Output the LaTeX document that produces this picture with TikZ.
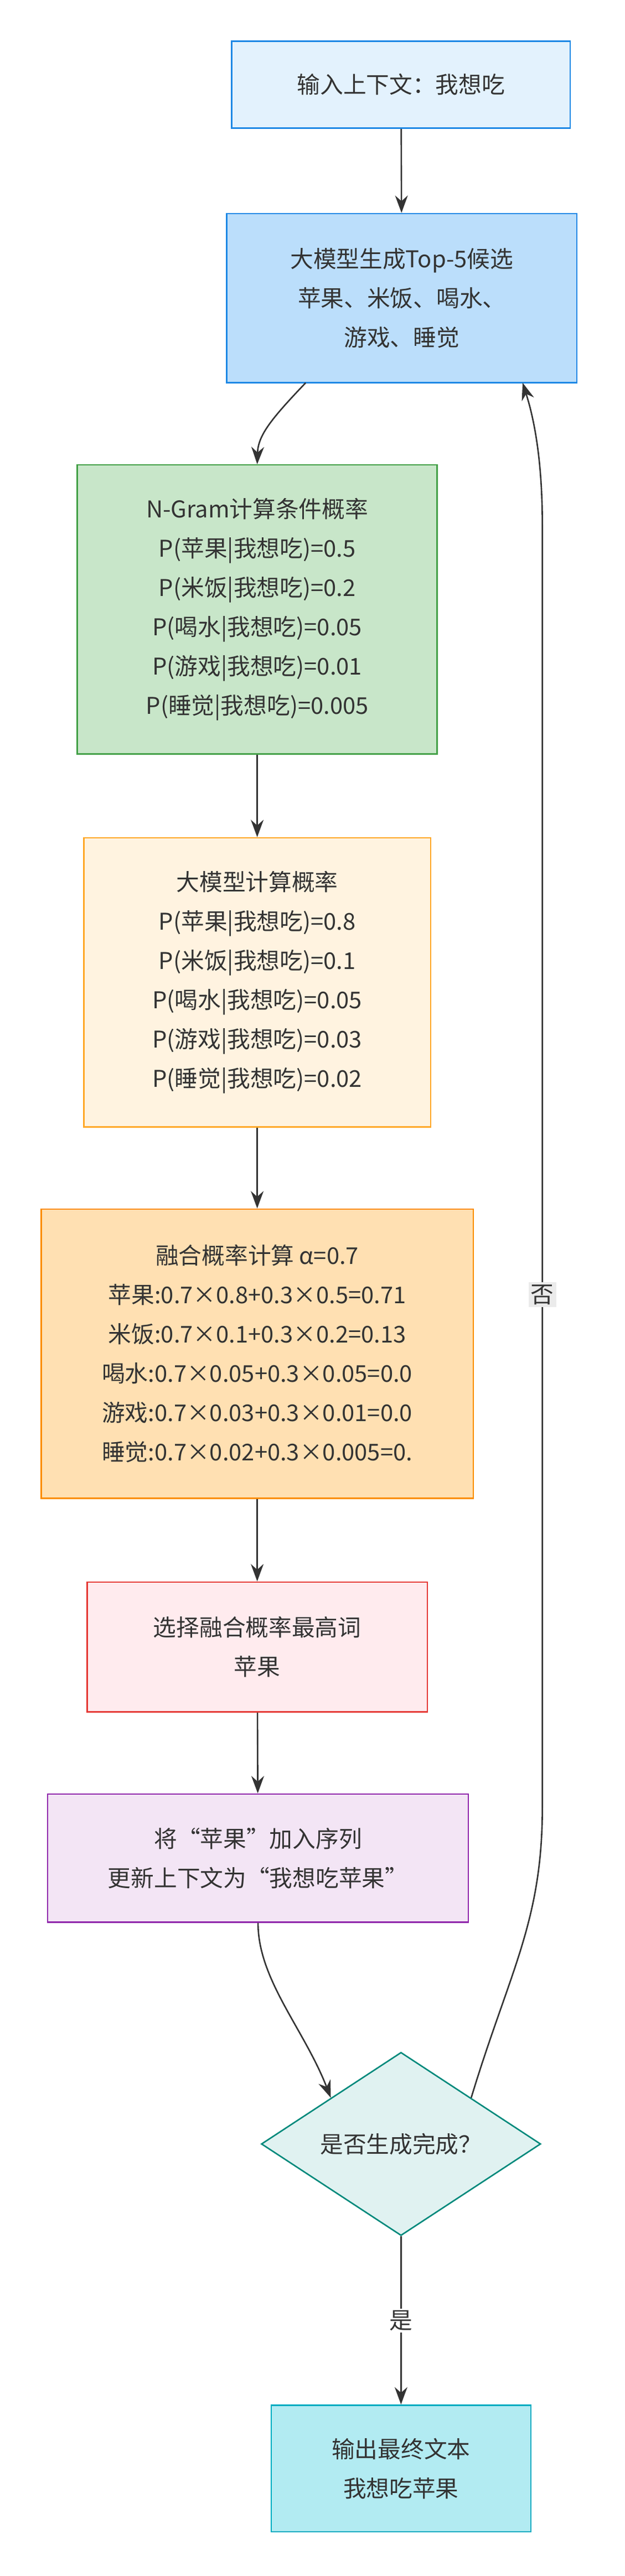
\documentclass[tikz,border=0pt]{standalone}
\usepackage{fontspec}
\setmainfont{Noto Sans CJK SC}
\usetikzlibrary{shapes.geometric,arrows.meta}
\definecolor{inFill}{HTML}{E3F2FD}
\definecolor{genFill}{HTML}{BBDEFB}
\definecolor{blueLine}{HTML}{1E88E5}
\definecolor{ngFill}{HTML}{C8E6C9}
\definecolor{ngLine}{HTML}{43A047}
\definecolor{llmFill}{HTML}{FFF3E0}
\definecolor{llmLine}{HTML}{FFA726}
\definecolor{mixFill}{HTML}{FFE0B2}
\definecolor{mixLine}{HTML}{FB8C00}
\definecolor{selFill}{HTML}{FFEBEE}
\definecolor{selLine}{HTML}{E53935}
\definecolor{addFill}{HTML}{F3E5F5}
\definecolor{addLine}{HTML}{8E24AA}
\definecolor{askFill}{HTML}{E0F2F1}
\definecolor{askLine}{HTML}{00897B}
\definecolor{outFill}{HTML}{B2EBF2}
\definecolor{outLine}{HTML}{00ACC1}
\definecolor{edgeCol}{HTML}{333333}
\begin{document}
\begin{tikzpicture}[x=1mm,y=-1mm,
			every node/.style={font=\fontsize{40}{68}\selectfont, text=edgeCol, align=center, line width=2.5pt, inner sep=0pt},
			flowbox/.style={draw, rectangle},
			flow/.style={draw=edgeCol, line width=2.5pt, -{Stealth[length=30pt,width=22pt]}}]
			\useasboundingbox (0,0) rectangle (380,1568);
			
			\node[flowbox, fill=inFill, draw=blueLine, minimum width=206mm, minimum height=53mm] (input) at (244,51.5) {输入上下文：我想吃};
			\node[flowbox, fill=genFill, draw=blueLine, minimum width=213mm, minimum height=103mm] (gen) at (244.5,181.5)
				{大模型生成Top-5候选\\苹果、米饭、喝水、\\游戏、睡觉};
			\node[flowbox, fill=ngFill, draw=ngLine, minimum width=219mm, minimum height=176mm] (ngram) at (156.5,371)
				{N-Gram计算条件概率\\P(苹果|我想吃)=0.5\\P(米饭|我想吃)=0.2\\P(喝水|我想吃)=0.05\\P(游戏|我想吃)=0.01\\P(睡觉|我想吃)=0.005};
			\node[flowbox, fill=llmFill, draw=llmLine, minimum width=211mm, minimum height=176mm] (llm) at (156.5,598)
				{大模型计算概率\\P(苹果|我想吃)=0.8\\P(米饭|我想吃)=0.1\\P(喝水|我想吃)=0.05\\P(游戏|我想吃)=0.03\\P(睡觉|我想吃)=0.02};
			\node[flowbox, fill=mixFill, draw=mixLine, minimum width=263mm, minimum height=176mm] (mix) at (156.5,824)
				{融合概率计算 α=0.7\\苹果:0.7×0.8+0.3×0.5=0.71\\米饭:0.7×0.1+0.3×0.2=0.13\\喝水:0.7×0.05+0.3×0.05=0.0\\游戏:0.7×0.03+0.3×0.01=0.0\\睡觉:0.7×0.02+0.3×0.005=0.};
			\node[flowbox, fill=selFill, draw=selLine, minimum width=207mm, minimum height=79mm] (pick) at (156.5,1002.5)
				{选择融合概率最高词\\苹果};
			\node[flowbox, fill=addFill, draw=addLine, minimum width=256mm, minimum height=78mm] (append) at (157,1131)
				{将“苹果”加入序列\\更新上下文为“我想吃苹果”};
			\node[draw=askLine, fill=askFill, diamond, aspect=1, minimum width=170mm] (done) at (244,1305) {是否生成完成？};
			\node[flowbox, fill=outFill, draw=outLine, minimum width=158mm, minimum height=77mm] (result) at (244,1502.5)
				{输出最终文本\\我想吃苹果};
			
			\draw[flow] (input) -- (gen);
			\draw[flow] (186,233) .. controls (165,255) and (157,265) .. (ngram.north);
			\draw[flow] (ngram) -- (llm);
			\draw[flow] (llm) -- (mix);
			\draw[flow] (mix) -- (pick);
			\draw[flow] (pick) -- (append);
			\draw[flow] (append.south) .. controls (157,1205) and (185,1235) .. (done.north west);
			\draw[flow] (done.south) -- node[fill=white, inner sep=3pt] {是} (result);
			\draw[flow] (done.north east) .. controls (310,1200) and (330,1170) .. (330,1100)
				-- node[pos=0.4, fill=black!8, inner sep=4pt] {否} (330,320)
				.. controls (330,280) and (325,255) .. (318,233);
			\end{tikzpicture}
\end{document}
